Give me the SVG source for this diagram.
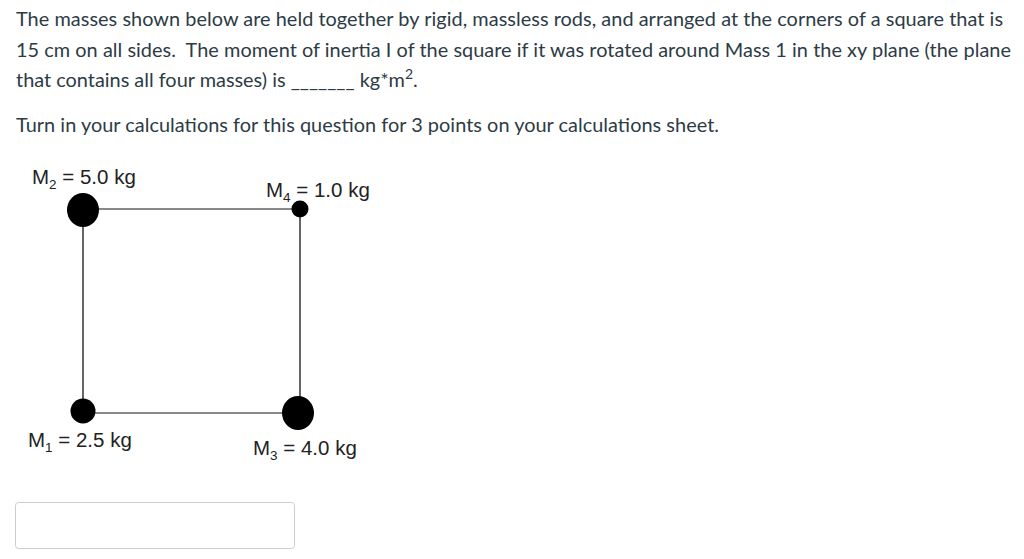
<svg xmlns="http://www.w3.org/2000/svg" width="1024" height="559" viewBox="0 0 1024 559">
<style>
.q{font-family:Lato,"Liberation Sans",sans-serif;font-size:19.9px;fill:#2d3b45}
.lbl{font-family:"Liberation Sans",Arial,sans-serif;font-size:20.5px;fill:#222}
.sub{font-size:13.5px}
.rod{stroke:#888;stroke-width:2}
.rodk{stroke:#333;stroke-width:1.5}
.mass{fill:#000}
</style>
<rect width="1024" height="559" fill="#fff"/>
<g id="question">
<text class="q" x="16" y="26" textLength="987" lengthAdjust="spacing">The masses shown below are held together by rigid, massless rods, and arranged at the corners of a square that is</text>
<text class="q" x="16" y="56.5" textLength="995" lengthAdjust="spacing" xml:space="preserve">15 cm on all sides.  The moment of inertia I of the square if it was rotated around Mass 1 in the xy plane (the plane</text>
<text class="q" x="16" y="87">that contains all four masses) is _______ kg*m<tspan dy="-8" font-size="14">2</tspan><tspan dy="8">.</tspan></text>
<text class="q" x="16" y="131.5" textLength="703" lengthAdjust="spacing">Turn in your calculations for this question for 3 points on your calculations sheet.</text>
</g>
<g id="connectors">
<line class="rod" x1="83" y1="209" x2="300" y2="209"/>
<line class="rod" x1="83" y1="413" x2="298" y2="413"/>
<line class="rodk" x1="83" y1="210" x2="83" y2="411"/>
<line class="rodk" x1="300" y1="209" x2="300" y2="413"/>
</g>
<g id="m2"><ellipse class="mass" cx="83" cy="210" rx="16" ry="17"/><text class="lbl" x="32" y="184">M<tspan class="sub" dy="5">2</tspan><tspan dy="-5"> = 5.0 kg</tspan></text></g>
<g id="m4"><circle class="mass" cx="300" cy="209" r="8.5"/><text class="lbl" x="266" y="197">M<tspan class="sub" dy="5">4</tspan><tspan dy="-5"> = 1.0 kg</tspan></text></g>
<g id="m1"><circle class="mass" cx="83" cy="411" r="12.5"/><text class="lbl" x="28" y="447">M<tspan class="sub" dy="5">1</tspan><tspan dy="-5"> = 2.5 kg</tspan></text></g>
<g id="m3"><ellipse class="mass" cx="298" cy="413" rx="16" ry="17"/><text class="lbl" x="253" y="455">M<tspan class="sub" dy="5">3</tspan><tspan dy="-5"> = 4.0 kg</tspan></text></g>
<g id="answer"><rect x="15.5" y="502.5" width="279" height="46" rx="3" fill="#fff" stroke="#c7cdd1"/></g>
</svg>
